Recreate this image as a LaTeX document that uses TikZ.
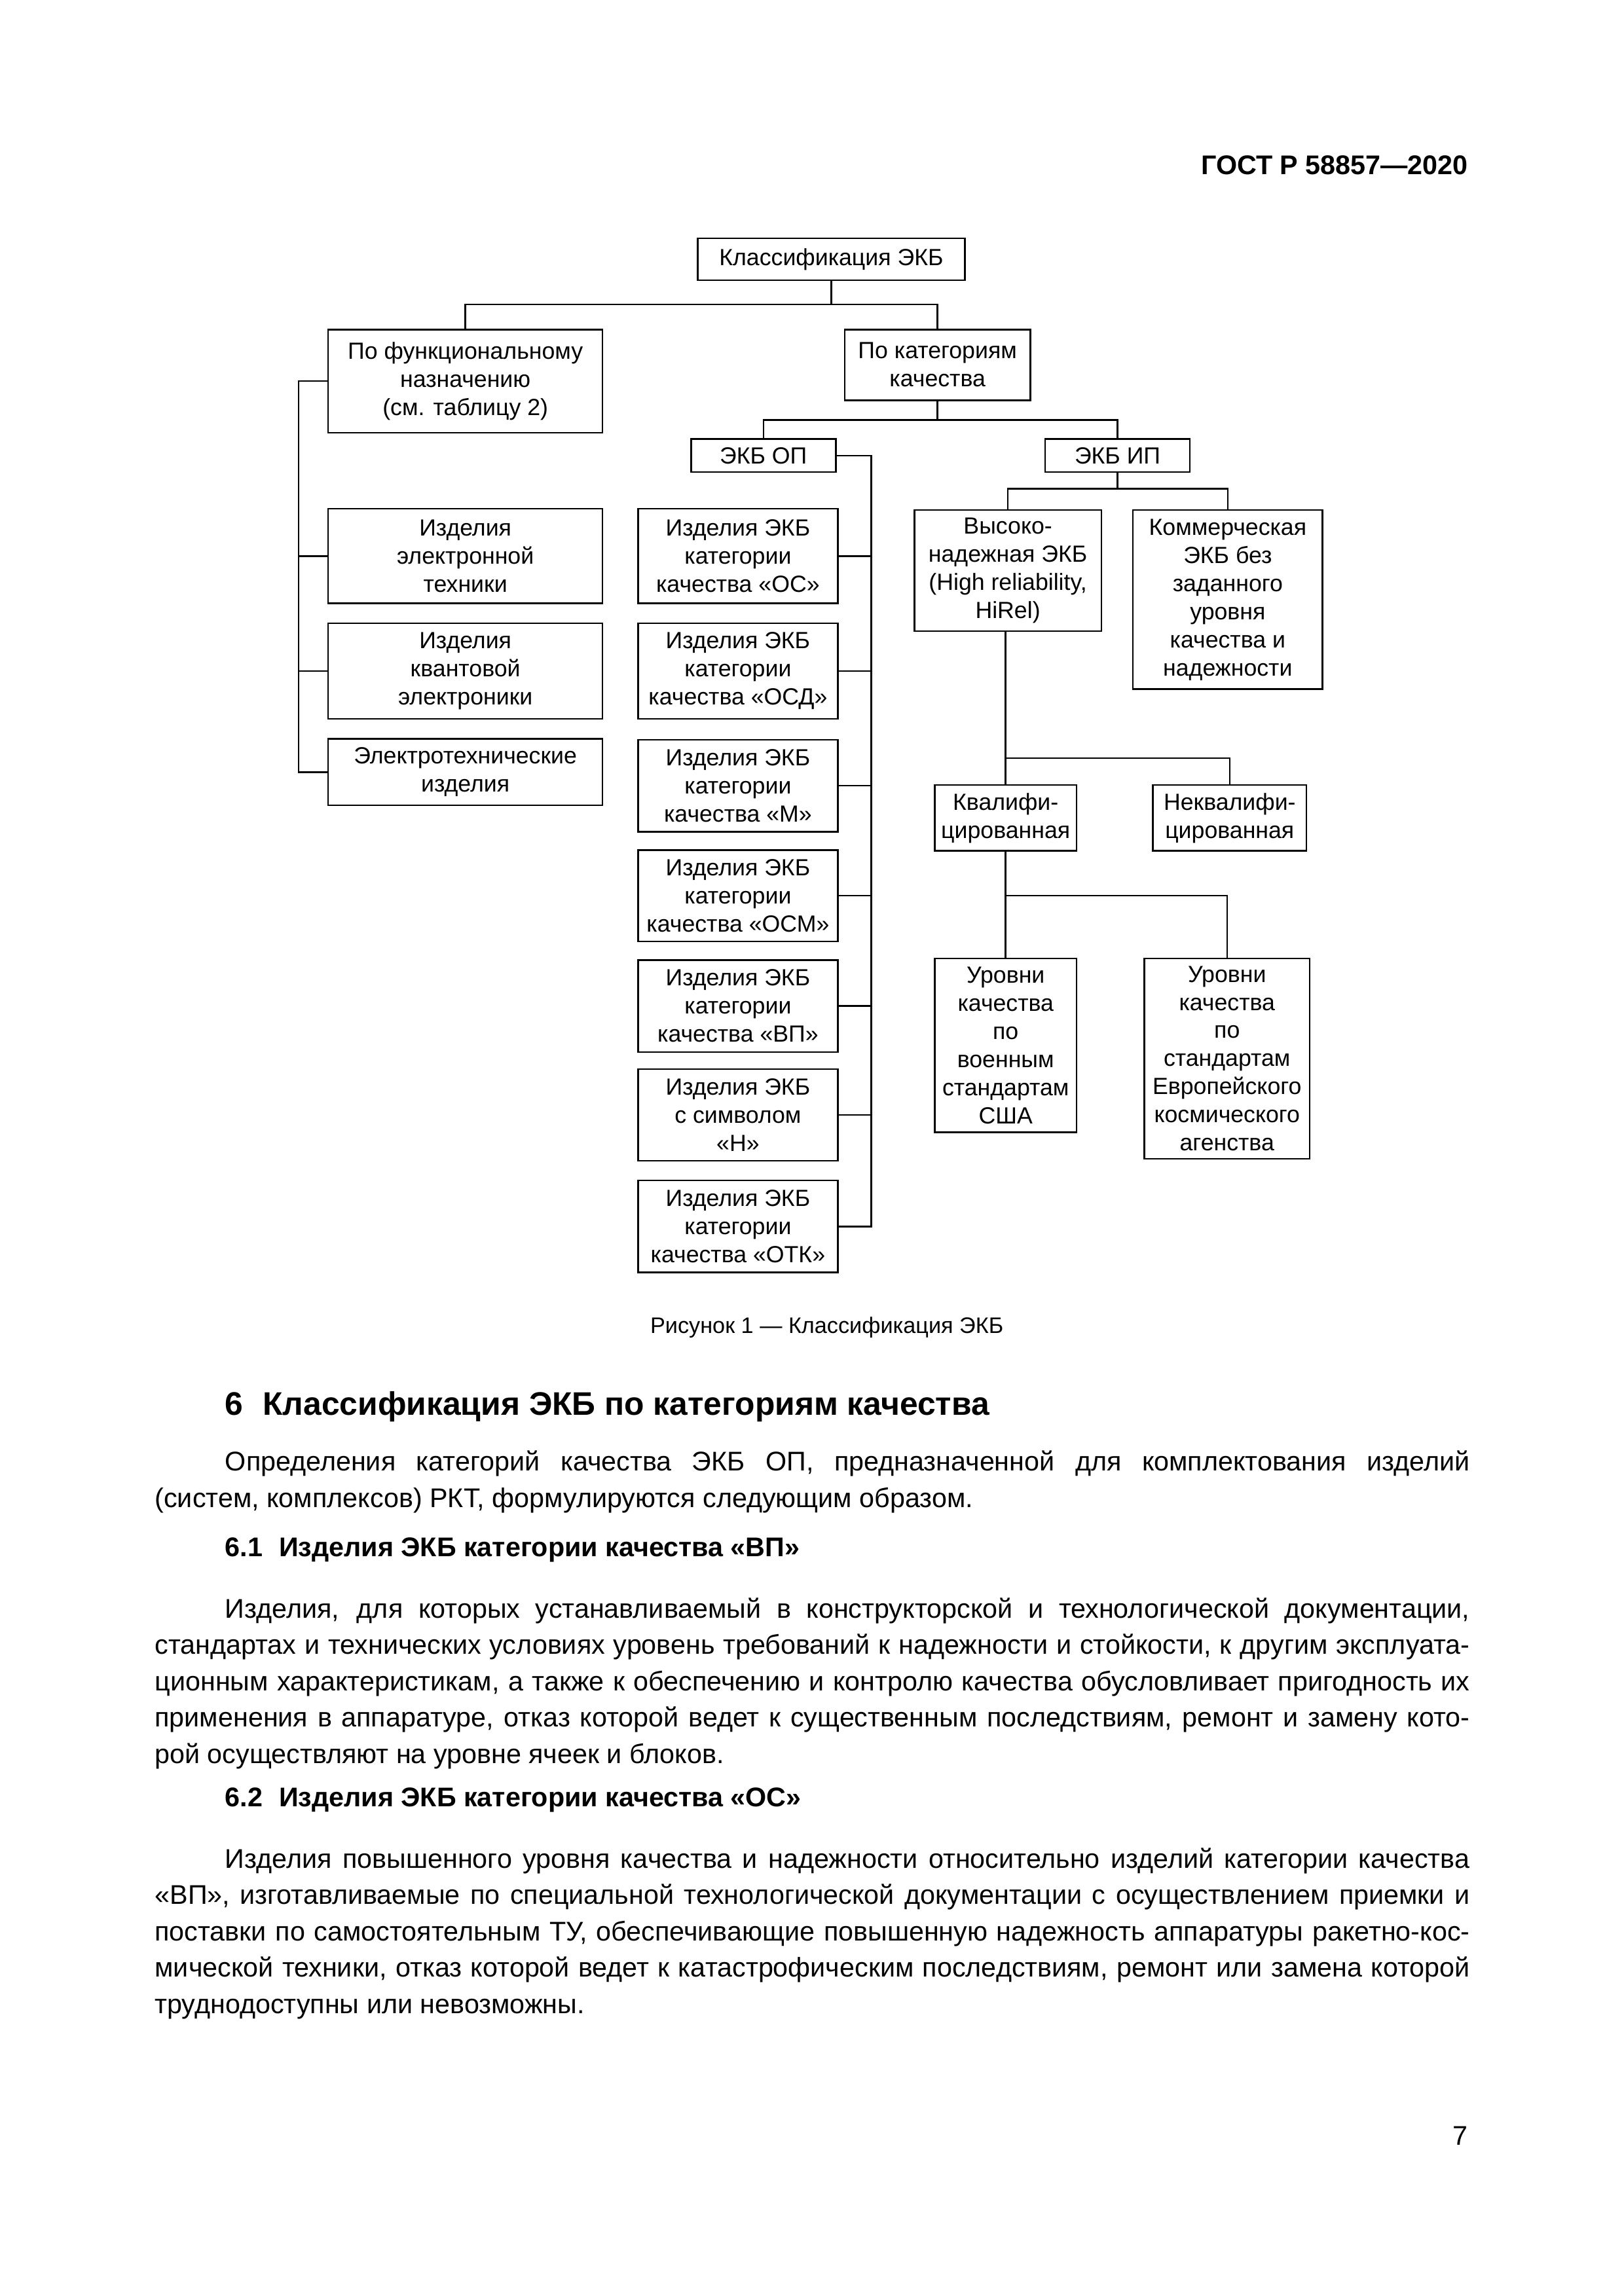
\documentclass[tikz,border=0pt]{standalone}
\usepackage{fontspec}
\setmainfont{Liberation Sans}

\newcommand{\ux}{0.19039mm}
\newcommand{\diafont}{\fontsize{8.6}{10.36}\selectfont}
\newcommand{\bodyfont}{\fontsize{9.95}{13}\selectfont}
\newlength{\fullw}\setlength{\fullw}{170.08mm}
\newlength{\indw}\setlength{\indw}{160.98mm}
\newcommand{\jline}[2]{\makebox[#1][s]{#2}}

\begin{document}
\begin{tikzpicture}[x=0.19039mm, y=-0.19039mm, line width=0.6pt,
    box/.style={draw, align=center, font=\diafont, inner sep=1pt},
    sz/.style 2 args={minimum width=#1*\ux, minimum height=#2*\ux},
    txt/.style={anchor=base west, inner sep=0pt, font=\bodyfont},
    head/.style={anchor=base west, inner sep=0pt, font=\bodyfont\bfseries}]

            \fill[white] (0,0) rectangle (1103,1560.4);
            \useasboundingbox (0,0) rectangle (1103,1560.4);

            \node[anchor=base east, inner sep=0pt, font=\bodyfont\bfseries] (gost) at (998,118.7) {ГОСТ Р 58857—2020};

            % classification tree
            \node[box, sz={181.5}{28.5}] (top) at (564.8,176.2) {Классификация ЭКБ};
            \node[box, sz={186.4}{70}] (func) at (316.2,259) {По функциональному\\назначению\\(см. таблицу 2)};
            \node[box, sz={126}{48}] (cat) at (637,248) {По категориям\\качества};
            \node[box, sz={98.3}{22.4}] (op) at (518.7,309.6) {ЭКБ ОП};
            \node[box, sz={98.5}{22.4}] (ip) at (759.3,309.6) {ЭКБ ИП};

            \node[box, sz={186.4}{64.3}] (el) at (316.2,377.9) {Изделия\\электронной\\техники};
            \node[box, sz={186.4}{64.9}] (kv) at (316.2,456) {Изделия\\квантовой\\электроники};
            \node[box, sz={186.4}{45.3}] (et) at (316.2,524.7) {Электротехнические\\изделия};

            \node[box, sz={135.8}{64.3}] (os) at (501.4,377.9) {Изделия ЭКБ\\категории\\качества «ОС»};
            \node[box, sz={135.8}{64.9}] (osd) at (501.4,456) {Изделия ЭКБ\\категории\\качества «ОСД»};
            \node[box, sz={135.8}{62.5}] (m) at (501.4,534) {Изделия ЭКБ\\категории\\качества «М»};
            \node[box, sz={135.8}{62.1}] (osm) at (501.4,608.7) {Изделия ЭКБ\\категории\\качества «ОСМ»};
            \node[box, sz={135.8}{62.6}] (vp) at (501.4,683.7) {Изделия ЭКБ\\категории\\качества «ВП»};
            \node[box, sz={135.8}{62.3}] (h) at (501.4,757.7) {Изделия ЭКБ\\с символом\\«Н»};
            \node[box, sz={135.8}{62.6}] (otk) at (501.4,833.5) {Изделия ЭКБ\\категории\\качества «ОТК»};

            \node[box, sz={127}{82.4}] (hirel) at (684.8,387.8) {Высоко-\\надежная ЭКБ\\(High reliability,\\HiRel)};
            \node[box, sz={128.9}{121.8}] (com) at (834.2,407.5) {Коммерческая\\ЭКБ без\\заданного\\уровня\\качества и\\надежности};
            \node[box, sz={96.2}{44.7}] (qual) at (683.3,555.9) {Квалифи-\\цированная};
            \node[box, sz={104.2}{44.7}] (nqual) at (835.5,555.9) {Неквалифи-\\цированная};
            \node[box, sz={96.2}{118.2}] (usa) at (683.3,710.4) {Уровни\\качества\\по\\военным\\стандартам\\США};
            \node[box, sz={112.2}{136.1}] (esa) at (833.7,719.4) {Уровни\\качества\\по\\стандартам\\Европейского\\космического\\агенства};

            \coordinate (bus1) at (0,207);
            \coordinate (bus2) at (0,285.5);
            \coordinate (bus3) at (0,332.2);
            \coordinate (bus4) at (0,515.3);
            \coordinate (bus5) at (0,608.6);
            \coordinate (lbus) at (203,0);
            \coordinate (mbus) at (592,0);

            \draw (top.south) -- (top.south |- bus1);
            \draw (func.north) -- (func.north |- bus1) -| (cat.north);
            \draw (cat.south) -- (cat.south |- bus2);
            \draw (op.north) -- (op.north |- bus2) -| (ip.north);

            \draw (func.west) -- (func.west -| lbus) |- (et.west);
            \foreach \n in {el, kv}
                \draw (\n.west) -- (\n.west -| lbus);

            \draw (op.east) -- (op.east -| mbus) |- (otk.east);
            \foreach \n in {os, osd, m, osm, vp, h}
                \draw (\n.east) -- (\n.east -| mbus);

            \draw (ip.south) -- (ip.south |- bus3);
            \draw (hirel.north) -- (hirel.north |- bus3) -| (com.north);
            \draw (qual.north) -- (qual.north |- hirel.south);
            \draw (qual.north |- bus4) -| (nqual.north);
            \draw (qual.south) -- (usa.north);
            \draw (qual.south |- bus5) -| (esa.north);

            \node[anchor=base, inner sep=0pt, font=\fontsize{8.25}{10}\selectfont] (caption) at (561.8,906.2) {Рисунок 1 — Классификация ЭКБ};

            % section 6
            \node[head, font=\fontsize{12}{14}\selectfont\bfseries] (s6) at (152.5,961.8) {6\hspace{0.6em}Классификация ЭКБ по категориям качества};
            \node[txt] (p1a) at (152.5,999.6) {\jline{\indw}{Определения категорий качества ЭКБ ОП, предназначенной для комплектования изделий}};
            \node[txt] (p1b) at (104.7,1024.4) {(систем, комплексов) РКТ, формулируются следующим образом.};

            \node[head] (s61) at (152.5,1057.9) {6.1\hspace{0.6em}Изделия ЭКБ категории качества «ВП»};
            \node[txt] (p2a) at (152.5,1099.5) {\jline{\indw}{Изделия, для которых устанавливаемый в конструкторской и технологической документации,}};
            \node[txt] (p2b) at (104.7,1124.2) {\jline{\fullw}{стандартах и технических условиях уровень требований к надежности и стойкости, к другим эксплуата-}};
            \node[txt] (p2c) at (104.7,1148.9) {\jline{\fullw}{ционным характеристикам, а также к обеспечению и контролю качества обусловливает пригодность их}};
            \node[txt] (p2d) at (104.7,1173.6) {\jline{\fullw}{применения в аппаратуре, отказ которой ведет к существенным последствиям, ремонт и замену кото-}};
            \node[txt] (p2e) at (104.7,1198.3) {рой осуществляют на уровне ячеек и блоков.};

            \node[head] (s62) at (152.5,1227.9) {6.2\hspace{0.6em}Изделия ЭКБ категории качества «ОС»};
            \node[txt] (p3a) at (152.5,1269.5) {\jline{\indw}{Изделия повышенного уровня качества и надежности относительно изделий категории качества}};
            \node[txt] (p3b) at (104.7,1294.2) {\jline{\fullw}{«ВП», изготавливаемые по специальной технологической документации с осуществлением приемки и}};
            \node[txt] (p3c) at (104.7,1318.9) {\jline{\fullw}{поставки по самостоятельным ТУ, обеспечивающие повышенную надежность аппаратуры ракетно-кос-}};
            \node[txt] (p3d) at (104.7,1343.6) {\jline{\fullw}{мической техники, отказ которой ведет к катастрофическим последствиям, ремонт или замена которой}};
            \node[txt] (p3e) at (104.7,1368.3) {труднодоступны или невозможны.};

            \node[anchor=base east, inner sep=0pt, font=\bodyfont] (pnum) at (998,1458) {7};

\end{tikzpicture}
\end{document}
